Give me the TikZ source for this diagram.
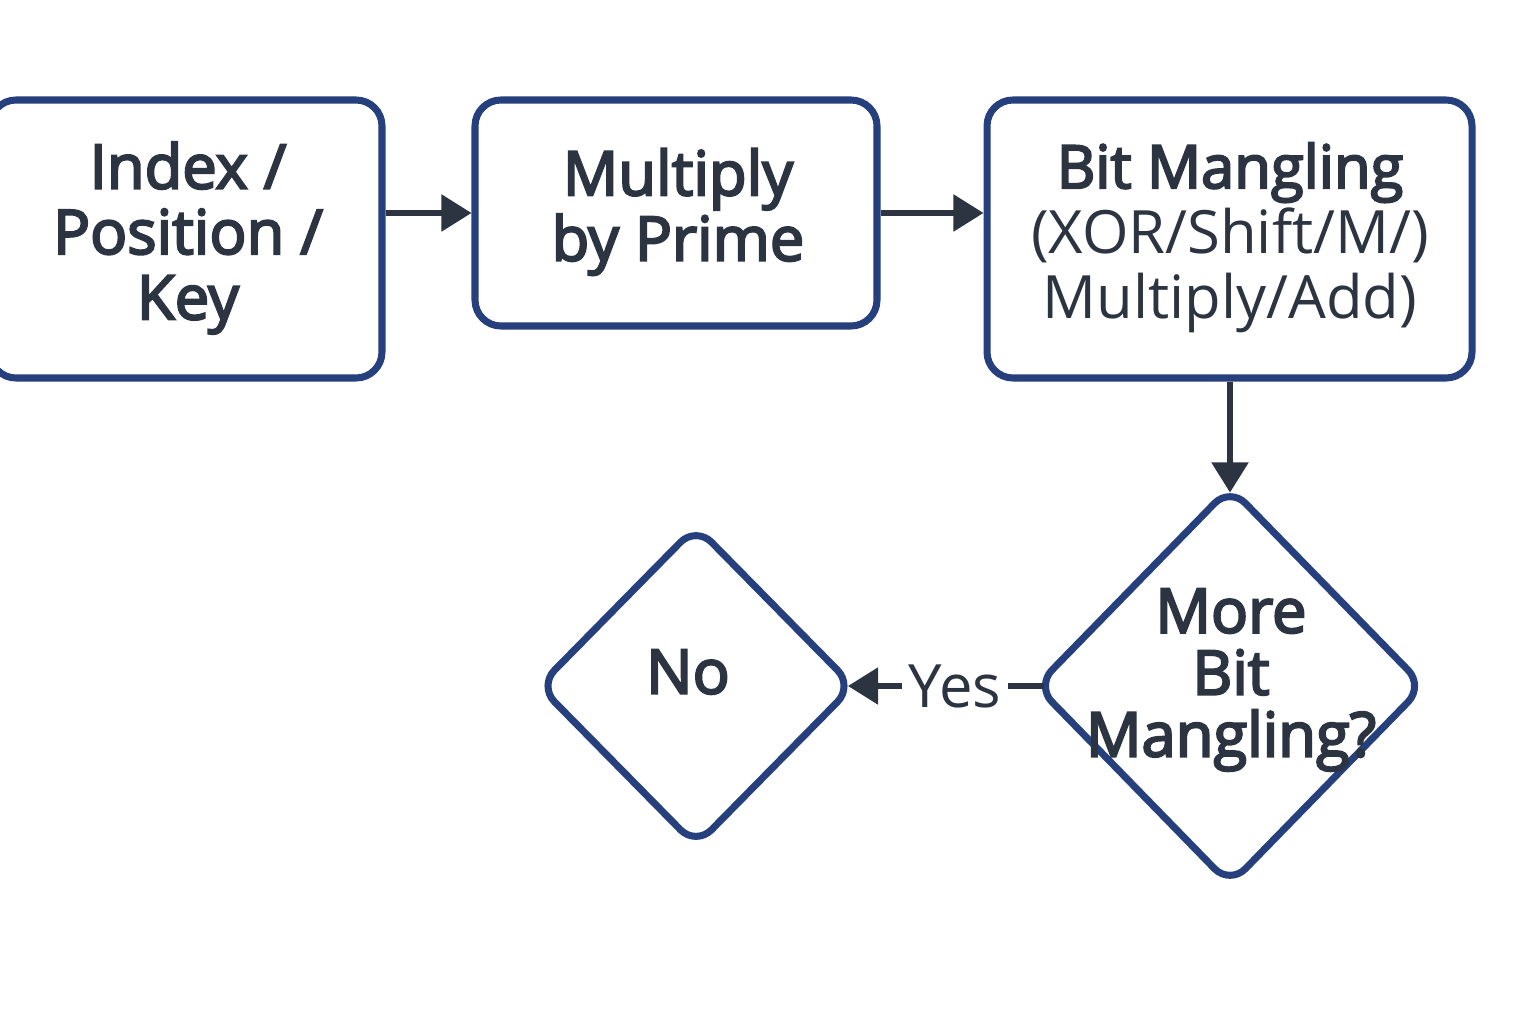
\documentclass[tikz,border=0pt]{standalone}
\usepackage{fontspec}
\setmainfont{Open Sans}
\newfontfamily\semib[FakeBold=3.5]{Open Sans}
\usetikzlibrary{arrows.meta,shapes.geometric}

\definecolor{boxblue}{HTML}{25407D}
\definecolor{inkgray}{HTML}{2B3440}

\tikzset{
    stepbox/.style={shape=rectangle, draw=boxblue, line width=2pt, rounded corners=0.26cm,
        inner sep=0pt, fill=white},
    choice/.style={shape=diamond, draw=boxblue, line width=2pt, rounded corners=0.22cm,
        inner sep=0pt, fill=white},
    boxtext/.style={text=inkgray, align=center, font=\fontsize{17}{18.6}\selectfont},
    boldtext/.style={boxtext, font=\fontsize{17.5}{18.6}\selectfont\semib},
    flow/.style={draw=inkgray, line width=1.5pt, -{Triangle[length=0.3cm,width=0.36cm]}}
}

\begin{document}
\begin{tikzpicture}
            \useasboundingbox (0,0) rectangle (15.36,10.24);

            \node[stepbox, minimum width=3.92cm, minimum height=2.78cm] (b1) at (1.86,7.85) {};
            \node[stepbox, minimum width=4.02cm, minimum height=2.26cm] (b2) at (6.76,8.11) {};
            \node[stepbox, minimum width=4.85cm, minimum height=2.78cm] (b3) at (12.295,7.85) {};
            \node[choice, minimum width=3.9cm, minimum height=4.0cm] (q) at (12.30,3.38) {};
            \node[choice, minimum width=3.17cm, minimum height=3.22cm] (no) at (6.96,3.38) {};

            %testi
            \node[boldtext] (t1) at (1.88,7.86) {Index /\\Position /\\Key};
            \node[boldtext] (t2) at (6.78,8.12) {Multiply\\by Prime};
            \node[boxtext] (t3) at (12.30,7.86) {{\semib Bit Mangling}\\(XOR/Shift/M/)\\Multiply/Add)};
            \node[boldtext, font=\fontsize{17.5}{17.6}\selectfont\semib] (tq) at (12.31,3.44) {More\\Bit\\Mangling?};
            \node[boldtext] (tno) at (6.88,3.52) {No};

            %frecce
            \path (b1.east |- b2.west) edge[flow] (b2.west);
            \path (b2.east) edge[flow] (b3.west |- b2.east);
            \path (b3.south -| q.north) edge[flow, shorten >=-0.1cm] (q.north);
            \path (q.west) edge[flow, shorten <=-0.12cm, shorten >=-0.1cm] node[pos=0.44, boxtext, fill=white, inner sep=2pt] {Yes} (no.east);
\end{tikzpicture}
\end{document}
